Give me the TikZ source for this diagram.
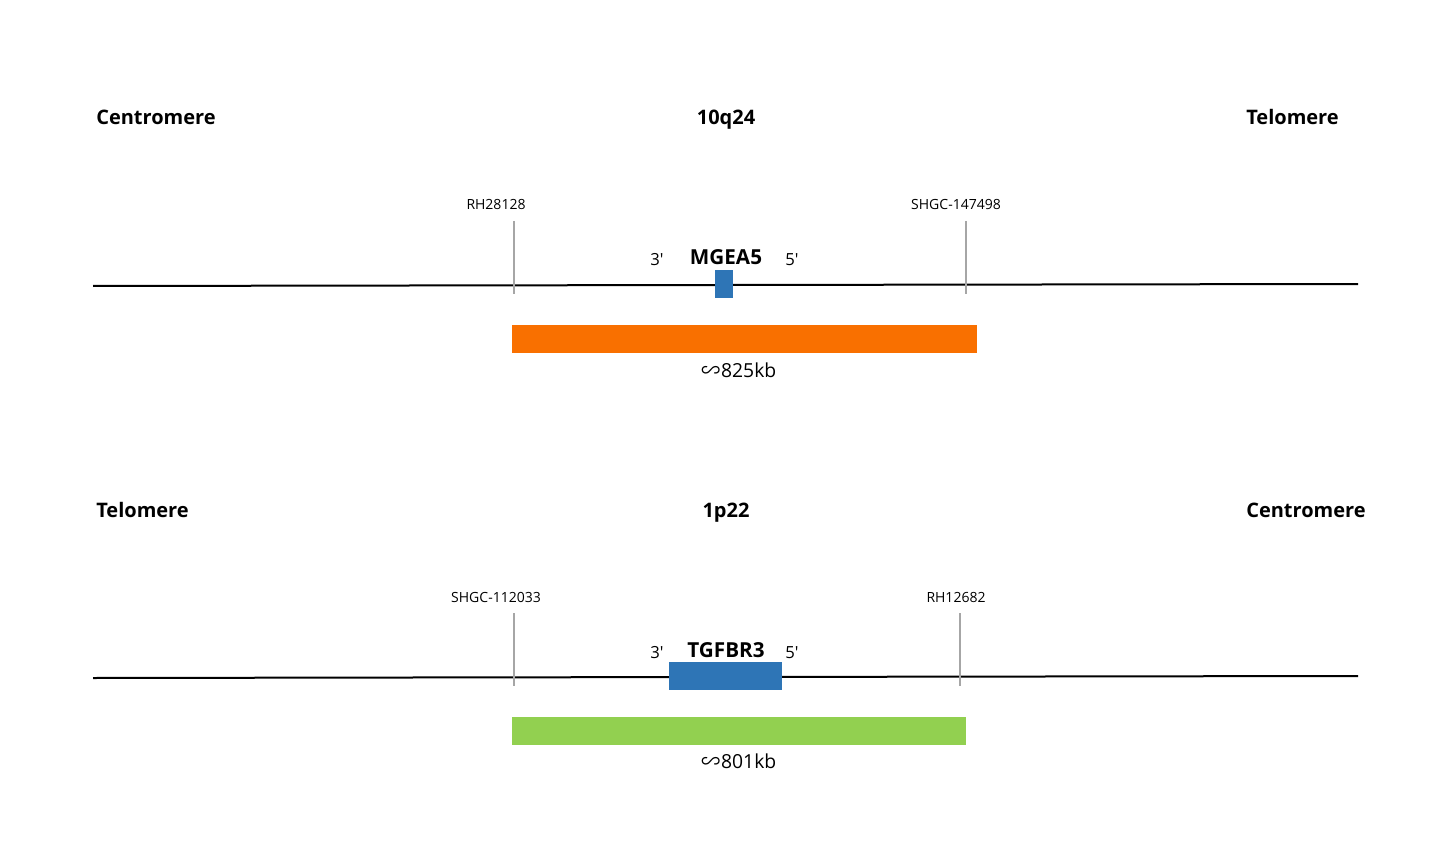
\documentclass[tikz,border=0pt]{standalone}
\usepackage{fontspec}
\setmainfont{Open Sans}
\newfontfamily\plainfont{Open Sans}
\newfontfamily\cjkfont{Noto Sans CJK SC}
\definecolor{geneblue}{HTML}{2E75B6}
\definecolor{orangebar}{HTML}{F97000}
\definecolor{greenbar}{HTML}{92D050}
\definecolor{markgray}{HTML}{A6A6A6}
\tikzset{
  chrom/.style={line width=1.5pt, black},
  marker/.style={line width=1.5pt, markgray},
  title/.style={inner sep=0pt, font=\fontsize{15}{15}\selectfont\bfseries},
  mlabel/.style={inner sep=0pt, font=\fontsize{10.5}{10.5}\selectfont},
  endlabel/.style={inner sep=0pt, font=\plainfont\fontsize{12.5}{12.5}\selectfont},
  genename/.style={inner sep=0pt, font=\fontsize{15.5}{15.5}\selectfont\bfseries},
  sizelabel/.style={inner sep=0pt, font=\fontsize{14.5}{14.5}\selectfont},
}
\begin{document}
\begin{tikzpicture}[x=0.75pt,y=-0.75pt]
\useasboundingbox (0,0) rectangle (1452,852);
% ---------- top panel ----------
\node[title, anchor=base west] (cen1) at (96,125) {Centromere};
\node[title, anchor=base] (band1) at (726,125) {10q24};
\node[title, anchor=base west] (tel1) at (1246,125) {Telomere};
\coordinate (l1a) at (93,286);
\coordinate (l1b) at (1358,284);
\draw[chrom] (l1a) -- (l1b);
\coordinate (m1a) at (514,221); \coordinate (m1ab) at (514,294);
\coordinate (m1b) at (966,221); \coordinate (m1bb) at (966,294);
\draw[marker] (m1a) -- (m1ab);
\draw[marker] (m1b) -- (m1bb);
\node[mlabel, anchor=base] (rh1) at (496,210) {RH28128};
\node[mlabel, anchor=base] (sh1) at (956,210) {SHGC-147498};
\node[fill=geneblue, minimum width=18*0.75pt, minimum height=28*0.75pt, inner sep=0pt] (g1) at (724,284) {};
\node[genename, anchor=base] (n1) at (726,264) {MGEA5};
\node[endlabel, anchor=base] (p31) at (657,266) {3'};
\node[endlabel, anchor=base] (p51) at (792,266) {5'};
\node[fill=orangebar, minimum width=465*0.75pt, minimum height=28*0.75pt, inner sep=0pt] (bar1) at (744.5,339) {};
\node[sizelabel, anchor=base] (s1) at (739,377) {{\cjkfont ∽}825kb};
% ---------- bottom panel ----------
\node[title, anchor=base west] (tel2) at (96,517) {Telomere};
\node[title, anchor=base] (band2) at (726,517) {1p22};
\node[title, anchor=base west] (cen2) at (1246,517) {Centromere};
\coordinate (l2a) at (93,678);
\coordinate (l2b) at (1358,676);
\draw[chrom] (l2a) -- (l2b);
\coordinate (m2a) at (514,613); \coordinate (m2ab) at (514,686);
\coordinate (m2b) at (960,613); \coordinate (m2bb) at (960,686);
\draw[marker] (m2a) -- (m2ab);
\draw[marker] (m2b) -- (m2bb);
\node[mlabel, anchor=base] (sh2) at (496,602) {SHGC-112033};
\node[mlabel, anchor=base] (rh2) at (956,602) {RH12682};
\node[fill=geneblue, minimum width=113*0.75pt, minimum height=28*0.75pt, inner sep=0pt] (g2) at (725.5,676) {};
\node[genename, anchor=base] (n2) at (726,657) {TGFBR3};
\node[endlabel, anchor=base] (p32) at (657,658) {3'};
\node[endlabel, anchor=base] (p52) at (792,658) {5'};
\node[fill=greenbar, minimum width=454*0.75pt, minimum height=28*0.75pt, inner sep=0pt] (bar2) at (739,731) {};
\node[sizelabel, anchor=base] (s2) at (739,768) {{\cjkfont ∽}801kb};
\end{tikzpicture}
\end{document}
